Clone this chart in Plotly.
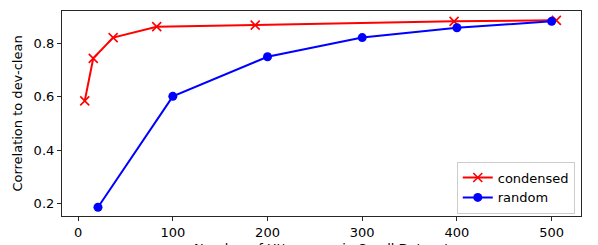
import plotly.graph_objects as go

condensed_x = [7, 16, 37, 83, 187, 397, 505]
condensed_y = [0.585, 0.745, 0.823, 0.864, 0.870, 0.884, 0.888]
random_x = [21, 100, 200, 300, 400, 500]
random_y = [0.185, 0.602, 0.751, 0.823, 0.860, 0.884]

x_ticks = [0, 100, 200, 300, 400, 500]
y_ticks = [0.2, 0.4, 0.6, 0.8]

font = "DejaVu Sans"

fig = go.Figure()
fig.add_trace(go.Scatter(
    x=condensed_x, y=condensed_y, mode="lines+markers", name="condensed",
    line=dict(color="#ff0000", width=2),
    marker=dict(symbol="x-thin", size=9, line=dict(color="#ff0000", width=1.6), color="#ff0000"),
))
fig.add_trace(go.Scatter(
    x=random_x, y=random_y, mode="lines+markers", name="random",
    line=dict(color="#0000ff", width=2),
    marker=dict(symbol="circle", size=9, color="#0000ff"),
))

axis_common = dict(
    showline=True, mirror=True, linecolor="#262626", linewidth=1.2,
    ticks="outside", ticklen=4, tickcolor="#262626", tickwidth=1,
    showgrid=False, zeroline=False, automargin=False,
    tickfont=dict(family=font, size=13, color="#000"),
)

# The page body has an 8px default margin; the figure is sized so that the
# visible 598x245 window shows the plot area at the reference position.
fig.update_layout(
    width=590, height=237,
    margin=dict(l=54, r=17, t=3, b=29, autoexpand=False),
    paper_bgcolor="white", plot_bgcolor="white",
    font=dict(family=font, size=13, color="#000"),
    xaxis=dict(range=[-17, 531], tickvals=x_ticks, **axis_common),
    yaxis=dict(range=[0.152, 0.923], tickvals=y_ticks, tickformat=".1f",
               title=dict(text="Correlation to dev-clean", font=dict(family=font, size=13), standoff=8),
               **axis_common),
    legend=dict(x=0.988, y=0.012, xanchor="right", yanchor="bottom",
                bgcolor="rgba(255,255,255,0.8)", bordercolor="#cccccc", borderwidth=1,
                font=dict(family=font, size=13, color="#000"), tracegroupgap=0, itemwidth=30),
    showlegend=True,
    annotations=[dict(
        text="Number of Utterances in Small Dataset", xref="paper", yref="paper",
        x=0.5, y=-0.112, xanchor="center", yanchor="top", showarrow=False,
        font=dict(family=font, size=13, color="#000"),
    )],
)

fig.write_html("out.html")
